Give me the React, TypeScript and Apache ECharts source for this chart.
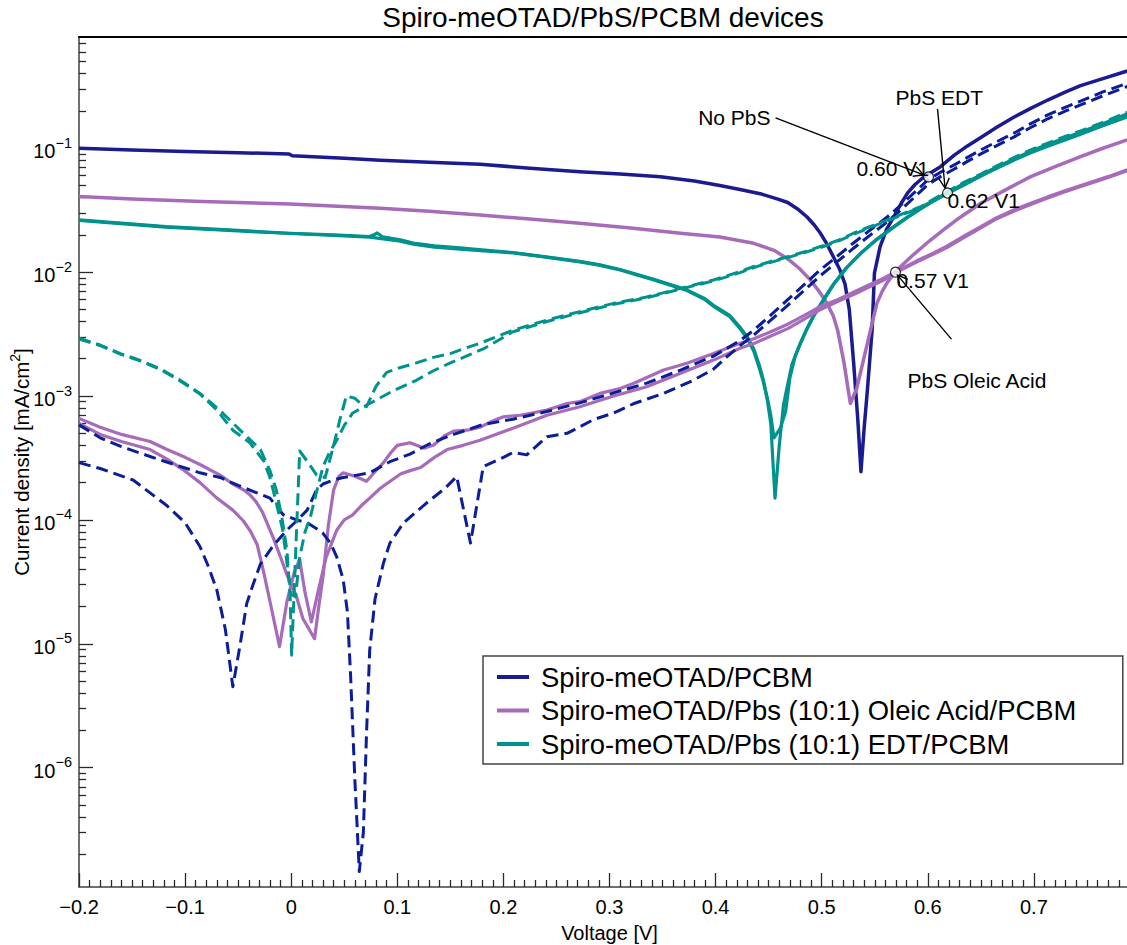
import React, { useEffect, useRef } from 'react';
import * as echarts from 'echarts';

type Pt = [number, number];

const TITLE = 'Spiro-meOTAD/PbS/PCBM devices';
const X_NAME = 'Voltage [V]';
const Y_NAME_MAIN = 'Current density [mA/cm';
const Y_NAME_SUP = '2';
const LEGEND_NAMES = [
  'Spiro-meOTAD/PCBM',
  'Spiro-meOTAD/Pbs (10:1) Oleic Acid/PCBM',
  'Spiro-meOTAD/Pbs (10:1) EDT/PCBM',
];

const X_MIN = -0.2;
const X_MAX = 0.8;
const X_TICKS = [-0.2, -0.1, 0, 0.1, 0.2, 0.3, 0.4, 0.5, 0.6, 0.7];
const X_TICK_LABELS = ['−0.2', '−0.1', '0', '0.1', '0.2', '0.3', '0.4', '0.5', '0.6', '0.7'];
const Y_MIN = 1.089e-7;
const Y_MAX = 0.7907;
const Y_MAJOR = [1e-6, 1e-5, 1e-4, 1e-3, 1e-2, 1e-1];
const Y_MAJOR_EXP = ['−6', '−5', '−4', '−3', '−2', '−1'];
const Y_MINOR_MULT = [2, 3, 4, 5, 6, 7, 8, 9];
const Y_DECADES = [1e-7, 1e-6, 1e-5, 1e-4, 1e-3, 1e-2, 1e-1];

// Spiro-meOTAD/PCBM (No PbS)
const noPbsLight: Pt[] = [
  [-0.2, 0.1], [-0.15, 0.097], [-0.1, 0.094], [-0.05, 0.092], [-0.002, 0.09], [0.001, 0.087],
  [0.05, 0.083], [0.084, 0.08], [0.13, 0.077], [0.178, 0.0743], [0.225, 0.069], [0.272, 0.0647],
  [0.31, 0.062], [0.348, 0.059], [0.38, 0.0545], [0.404, 0.05], [0.423, 0.0465], [0.442, 0.043],
  [0.458, 0.039], [0.468, 0.0365], [0.478, 0.032], [0.486, 0.028], [0.493, 0.024], [0.499, 0.0205],
  [0.505, 0.0168], [0.511, 0.0133], [0.517, 0.0105], [0.522, 0.008], [0.526, 0.005], [0.53, 0.0019],
  [0.534, 6.5e-4], [0.537, 2.45e-4], [0.54, 5.5e-4], [0.543, 1.1e-3], [0.5475, 3.4e-3], [0.5497, 9.8e-3],
  [0.555, 0.016], [0.561, 0.022], [0.568, 0.028], [0.575, 0.036], [0.581, 0.0436], [0.588, 0.051],
  [0.594, 0.0565], [0.6, 0.0615], [0.612, 0.071], [0.625, 0.088], [0.637, 0.104], [0.65, 0.122],
  [0.665, 0.148], [0.681, 0.178], [0.697, 0.21], [0.713, 0.245], [0.73, 0.285], [0.744, 0.32],
  [0.765, 0.365], [0.788, 0.42],
];
const noPbsDarkA: Pt[] = [
  [-0.2, 2.9e-4], [-0.18, 2.6e-4], [-0.149, 2.1e-4], [-0.117, 1.3e-4], [-0.1, 9.5e-5], [-0.086, 6.1e-5],
  [-0.078, 4.2e-5], [-0.07, 2.7e-5], [-0.062, 1.3e-5], [-0.055, 4.5e-6], [-0.048, 1.0e-5], [-0.042, 2.1e-5],
  [-0.036, 3.0e-5], [-0.029, 4.4e-5], [-0.017, 6.2e-5], [-0.004, 8.3e-5], [0.005, 9.8e-5], [0.015, 1.2e-4],
  [0.024, 1.75e-4], [0.03, 1.95e-4], [0.04, 2.1e-4], [0.049, 2.2e-4], [0.062, 2.3e-4], [0.074, 2.4e-4],
  [0.093, 2.95e-4], [0.112, 3.4e-4], [0.13, 4.1e-4], [0.15, 4.8e-4], [0.165, 5.3e-4], [0.181, 5.9e-4],
  [0.209, 6.5e-4], [0.241, 7.5e-4], [0.272, 8.8e-4], [0.304, 1.06e-3], [0.335, 1.27e-3], [0.367, 1.62e-3],
  [0.398, 2.1e-3], [0.423, 2.8e-3], [0.436, 3.4e-3], [0.452, 4.5e-3], [0.468, 6.0e-3], [0.484, 8.0e-3],
  [0.499, 0.0105], [0.515, 0.0135], [0.53, 0.0172], [0.546, 0.022], [0.562, 0.028], [0.575, 0.035],
  [0.587, 0.0436], [0.6, 0.0555], [0.612, 0.064], [0.625, 0.0735], [0.637, 0.084], [0.65, 0.097],
  [0.665, 0.113], [0.681, 0.132], [0.697, 0.158], [0.713, 0.186], [0.73, 0.215], [0.744, 0.24],
  [0.765, 0.285], [0.788, 0.335],
];
const noPbsDarkB: Pt[] = [
  [-0.2, 5.85e-4], [-0.18, 4.6e-4], [-0.16, 3.9e-4], [-0.133, 3.25e-4], [-0.11, 2.8e-4], [-0.086, 2.4e-4],
  [-0.067, 2.2e-4], [-0.05, 1.9e-4], [-0.036, 1.7e-4], [-0.02, 1.5e-4], [-0.0075, 1.1e-4], [0.005, 1.0e-4],
  [0.015, 9.5e-5], [0.024, 8.5e-5], [0.03, 7.8e-5], [0.037, 6.5e-5], [0.043, 5.0e-5], [0.049, 3.3e-5],
  [0.053, 1.8e-5], [0.056, 5.5e-6], [0.06, 8e-7], [0.0642, 1.45e-7], [0.068, 3.0e-7], [0.071, 1.9e-6],
  [0.074, 8.9e-6], [0.079, 2.3e-5], [0.087, 4.5e-5], [0.093, 6.5e-5], [0.106, 9.5e-5], [0.128, 1.38e-4],
  [0.145, 1.8e-4], [0.156, 2.24e-4], [0.169, 6.5e-5], [0.181, 2.7e-4], [0.2, 3.2e-4], [0.209, 3.5e-4],
  [0.222, 3.35e-4], [0.241, 4.7e-4], [0.26, 5.0e-4], [0.285, 6.45e-4], [0.304, 7.3e-4], [0.323, 8.7e-4],
  [0.351, 1.05e-3], [0.379, 1.34e-3], [0.398, 1.65e-3], [0.41, 2.05e-3], [0.423, 2.55e-3], [0.436, 3.1e-3],
  [0.452, 4.1e-3], [0.468, 5.4e-3], [0.484, 7.2e-3], [0.499, 9.4e-3], [0.515, 0.0122], [0.53, 0.0156],
  [0.546, 0.02], [0.562, 0.0255], [0.575, 0.032], [0.587, 0.04], [0.6, 0.051], [0.612, 0.059],
  [0.625, 0.068], [0.637, 0.078], [0.65, 0.09], [0.665, 0.105], [0.681, 0.123], [0.697, 0.147],
  [0.713, 0.173], [0.73, 0.2], [0.744, 0.224], [0.765, 0.265], [0.788, 0.315],
];

// Spiro-meOTAD/PbS Oleic Acid/PCBM
const oleicLight: Pt[] = [
  [-0.2, 0.0407], [-0.15, 0.039], [-0.084, 0.0371], [-0.001, 0.0355], [0.084, 0.0328], [0.13, 0.031],
  [0.178, 0.0289], [0.225, 0.0268], [0.272, 0.0248], [0.32, 0.0227], [0.367, 0.0206], [0.404, 0.0192],
  [0.436, 0.0171], [0.455, 0.015], [0.468, 0.0128], [0.479, 0.0107], [0.489, 0.0087], [0.497, 0.0071],
  [0.505, 0.0056], [0.511, 0.0044], [0.515, 0.0034], [0.521, 0.00186], [0.527, 8.7e-4], [0.533, 1.15e-3],
  [0.539, 1.9e-3], [0.546, 3.4e-3], [0.552, 5.6e-3], [0.557, 7.0e-3], [0.562, 8.3e-3], [0.571, 0.0104],
  [0.585, 0.0135], [0.602, 0.018], [0.615, 0.022], [0.63, 0.0275], [0.65, 0.036], [0.675, 0.047],
  [0.697, 0.059], [0.72, 0.071], [0.744, 0.0855], [0.765, 0.1], [0.788, 0.117],
];
const oleicDarkA: Pt[] = [
  [-0.2, 6.6e-4], [-0.18, 5.6e-4], [-0.16, 4.9e-4], [-0.133, 4.3e-4], [-0.117, 3.7e-4], [-0.1, 3.2e-4],
  [-0.086, 2.8e-4], [-0.067, 2.3e-4], [-0.055, 1.95e-4], [-0.045, 1.75e-4], [-0.039, 1.6e-4], [-0.033, 1.4e-4],
  [-0.027, 1.15e-4], [-0.017, 7.2e-5], [-0.01, 5.0e-5], [-0.004, 3.6e-5], [0.005, 2.4e-5], [0.011, 1.6e-5],
  [0.016, 1.35e-5], [0.022, 1.1e-5], [0.026, 2.0e-5], [0.03, 3.5e-5], [0.035, 9e-5], [0.04, 1.75e-4],
  [0.045, 2.25e-4], [0.049, 2.4e-4], [0.06, 2.25e-4], [0.071, 2.05e-4], [0.079, 2.45e-4], [0.087, 2.9e-4],
  [0.094, 3.5e-4], [0.1, 4.0e-4], [0.112, 4.2e-4], [0.125, 3.8e-4], [0.134, 4.0e-4], [0.145, 4.8e-4],
  [0.153, 5.2e-4], [0.166, 5.3e-4], [0.178, 5.6e-4], [0.19, 6.3e-4], [0.2, 6.8e-4], [0.216, 7.0e-4],
  [0.241, 7.7e-4], [0.26, 8.7e-4], [0.272, 9.0e-4], [0.291, 1.05e-3], [0.31, 1.15e-3], [0.323, 1.27e-3],
  [0.351, 1.62e-3], [0.373, 1.84e-3], [0.398, 2.2e-3], [0.423, 2.67e-3], [0.436, 2.9e-3], [0.452, 3.3e-3],
  [0.468, 3.8e-3], [0.484, 4.5e-3], [0.499, 5.3e-3], [0.515, 6.0e-3], [0.53, 6.9e-3], [0.545, 7.9e-3],
  [0.558, 8.9e-3], [0.57, 0.0101], [0.58, 0.0112], [0.59, 0.0124], [0.605, 0.0142], [0.618, 0.0162],
  [0.634, 0.0195], [0.65, 0.0233], [0.665, 0.0275], [0.681, 0.0318], [0.697, 0.036], [0.713, 0.0405],
  [0.73, 0.0455], [0.75, 0.052], [0.77, 0.059], [0.788, 0.067],
];
const oleicDarkB: Pt[] = [
  [-0.2, 6.0e-4], [-0.18, 4.9e-4], [-0.16, 4.3e-4], [-0.133, 3.7e-4], [-0.117, 3.1e-4], [-0.102, 2.55e-4],
  [-0.086, 2.0e-4], [-0.07, 1.5e-4], [-0.055, 1.2e-4], [-0.045, 9.8e-5], [-0.038, 8.0e-5], [-0.032, 6.3e-5],
  [-0.026, 3.8e-5], [-0.019, 2.0e-5], [-0.011, 9.5e-6], [-0.004, 2.2e-5], [0.003, 3.8e-5], [0.008, 4.8e-5],
  [0.013, 2.6e-5], [0.019, 1.5e-5], [0.026, 2.8e-5], [0.033, 5.0e-5], [0.043, 8.3e-5], [0.05, 1.0e-4],
  [0.058, 1.1e-4], [0.066, 1.3e-4], [0.074, 1.5e-4], [0.084, 1.8e-4], [0.103, 2.35e-4], [0.112, 2.5e-4],
  [0.122, 2.65e-4], [0.135, 3.2e-4], [0.147, 3.7e-4], [0.162, 4.0e-4], [0.178, 4.4e-4], [0.209, 5.5e-4],
  [0.241, 7.0e-4], [0.272, 8.2e-4], [0.304, 1.0e-3], [0.335, 1.19e-3], [0.367, 1.53e-3], [0.398, 1.95e-3],
  [0.423, 2.43e-3], [0.436, 2.65e-3], [0.452, 3.05e-3], [0.468, 3.5e-3], [0.484, 4.2e-3], [0.499, 5.0e-3],
  [0.515, 5.8e-3], [0.53, 6.6e-3], [0.545, 7.6e-3], [0.558, 8.6e-3], [0.57, 9.9e-3], [0.58, 0.011],
  [0.59, 0.0121], [0.605, 0.0139], [0.618, 0.0158], [0.634, 0.019], [0.65, 0.0228], [0.665, 0.027],
  [0.681, 0.031], [0.697, 0.0352], [0.713, 0.0397], [0.73, 0.0447], [0.75, 0.051], [0.77, 0.058],
  [0.788, 0.066],
];

// Spiro-meOTAD/PbS EDT/PCBM
const edtLightA: Pt[] = [
  [-0.2, 0.0264], [-0.118, 0.0233], [-0.05, 0.0217], [-0.001, 0.0206], [0.04, 0.02], [0.074, 0.0194],
  [0.078, 0.02], [0.081, 0.0207], [0.086, 0.0193], [0.103, 0.0182], [0.115, 0.0172], [0.135, 0.0163],
  [0.159, 0.0157], [0.185, 0.015], [0.209, 0.0144], [0.24, 0.0133], [0.272, 0.0122], [0.29, 0.0115],
  [0.31, 0.0105], [0.341, 0.0088], [0.373, 0.0072], [0.39, 0.0061], [0.398, 0.0054], [0.413, 0.0045],
  [0.423, 0.0036], [0.43, 0.003], [0.436, 0.0024], [0.441, 0.0018], [0.445, 0.00135], [0.449, 9e-4],
  [0.452, 6.0e-4], [0.456, 1.5e-4], [0.46, 4.0e-4], [0.464, 8.5e-4], [0.468, 1.25e-3], [0.472, 1.8e-3],
  [0.48, 2.7e-3], [0.486, 3.5e-3], [0.492, 4.4e-3], [0.5, 5.7e-3], [0.511, 8.0e-3], [0.523, 0.0108],
  [0.537, 0.0143], [0.552, 0.0185], [0.568, 0.0233], [0.581, 0.028], [0.594, 0.033], [0.606, 0.038],
  [0.618, 0.0432], [0.634, 0.051], [0.65, 0.06], [0.665, 0.07], [0.681, 0.081], [0.697, 0.093],
  [0.713, 0.105], [0.73, 0.119], [0.744, 0.132], [0.765, 0.155], [0.788, 0.183],
];
const edtLightB: Pt[] = [
  [-0.2, 0.0262], [-0.118, 0.0231], [-0.05, 0.0215], [-0.001, 0.0205], [0.04, 0.0198], [0.074, 0.0192],
  [0.103, 0.0178], [0.115, 0.0168], [0.135, 0.0159], [0.159, 0.0153], [0.185, 0.0148], [0.209, 0.0143],
  [0.24, 0.0132], [0.272, 0.0121], [0.29, 0.0114], [0.31, 0.0104], [0.341, 0.0087], [0.373, 0.0071],
  [0.39, 0.006], [0.398, 0.0053], [0.413, 0.0044], [0.423, 0.0035], [0.43, 0.0029], [0.436, 0.0023],
  [0.441, 0.0017], [0.445, 0.0013], [0.449, 9.5e-4], [0.452, 7.0e-4], [0.455, 4.6e-4], [0.461, 5.5e-4],
  [0.466, 7.5e-4], [0.47, 1.4e-3], [0.475, 2.1e-3], [0.48, 2.65e-3], [0.486, 3.45e-3], [0.492, 4.35e-3],
  [0.5, 5.6e-3], [0.511, 7.9e-3], [0.523, 0.0107], [0.537, 0.0142], [0.552, 0.0183], [0.568, 0.0231],
  [0.581, 0.0277], [0.594, 0.0327], [0.606, 0.0377], [0.618, 0.0428], [0.634, 0.0505], [0.65, 0.0595],
  [0.665, 0.069], [0.681, 0.08], [0.697, 0.092], [0.713, 0.104], [0.73, 0.117], [0.744, 0.13],
  [0.765, 0.152], [0.788, 0.179],
];
const edtDarkA: Pt[] = [
  [-0.2, 2.93e-3], [-0.18, 2.58e-3], [-0.161, 2.2e-3], [-0.143, 1.95e-3], [-0.124, 1.67e-3], [-0.105, 1.35e-3],
  [-0.086, 1.05e-3], [-0.074, 8.6e-4], [-0.064, 7.2e-4], [-0.045, 5.0e-4], [-0.029, 3.7e-4], [-0.02, 2.5e-4],
  [-0.014, 1.74e-4], [-0.009, 1.07e-4], [-0.004, 5.7e-5], [-0.001, 2.4e-5], [0.0004, 8.1e-6], [0.008, 3.6e-4],
  [0.016, 2.9e-4], [0.024, 2.3e-4], [0.032, 2.2e-4], [0.04, 4.0e-4], [0.046, 6.5e-4], [0.052, 1.0e-3],
  [0.06, 9.6e-4], [0.066, 8.6e-4], [0.071, 8.2e-4], [0.08, 1.2e-3], [0.09, 1.55e-3], [0.103, 1.7e-3],
  [0.118, 1.85e-3], [0.134, 2.05e-3], [0.15, 2.2e-3], [0.165, 2.45e-3], [0.178, 2.67e-3], [0.209, 3.4e-3],
  [0.241, 4.1e-3], [0.272, 4.8e-3], [0.304, 5.6e-3], [0.335, 6.3e-3], [0.367, 7.4e-3], [0.398, 8.65e-3],
  [0.423, 0.0101], [0.436, 0.0111], [0.452, 0.0122], [0.468, 0.0133], [0.484, 0.0146], [0.499, 0.0161],
  [0.515, 0.018], [0.53, 0.0206], [0.546, 0.0234], [0.562, 0.0264], [0.578, 0.03], [0.594, 0.034],
  [0.606, 0.039], [0.618, 0.0445], [0.634, 0.053], [0.65, 0.062], [0.665, 0.072], [0.681, 0.084],
  [0.697, 0.097], [0.713, 0.11], [0.73, 0.125], [0.744, 0.138], [0.765, 0.162], [0.788, 0.195],
];
const edtDarkB: Pt[] = [
  [-0.2, 2.88e-3], [-0.18, 2.55e-3], [-0.161, 2.18e-3], [-0.143, 1.93e-3], [-0.124, 1.65e-3], [-0.105, 1.33e-3],
  [-0.086, 1.04e-3], [-0.07, 7.7e-4], [-0.055, 5.3e-4], [-0.039, 4.2e-4], [-0.026, 3.0e-4], [-0.02, 2.2e-4],
  [-0.014, 1.37e-4], [-0.008, 8.3e-5], [-0.004, 4.5e-5], [0.0, 2.5e-5], [0.004, 2.4e-5], [0.008, 5.0e-5],
  [0.013, 8.0e-5], [0.018, 1.05e-4], [0.024, 1.7e-4], [0.03, 2.7e-4], [0.036, 3.5e-4], [0.043, 4.4e-4],
  [0.05, 5.8e-4], [0.058, 7.3e-4], [0.066, 8.0e-4], [0.074, 8.7e-4], [0.087, 1.0e-3], [0.096, 1.1e-3],
  [0.118, 1.34e-3], [0.134, 1.6e-3], [0.15, 1.85e-3], [0.165, 2.1e-3], [0.181, 2.4e-3], [0.209, 3.3e-3],
  [0.241, 4.0e-3], [0.272, 4.7e-3], [0.304, 5.5e-3], [0.335, 6.2e-3], [0.367, 7.3e-3], [0.398, 8.5e-3],
  [0.423, 9.9e-3], [0.436, 0.0109], [0.452, 0.012], [0.468, 0.0131], [0.484, 0.0144], [0.499, 0.0158],
  [0.515, 0.0177], [0.53, 0.0202], [0.546, 0.023], [0.562, 0.026], [0.578, 0.0295], [0.594, 0.0335],
  [0.606, 0.0383], [0.618, 0.0437], [0.634, 0.052], [0.65, 0.061], [0.665, 0.0705], [0.681, 0.082],
  [0.697, 0.095], [0.713, 0.108], [0.73, 0.122], [0.744, 0.135], [0.765, 0.158], [0.788, 0.19],
];

// Annotations (open-circuit voltage markers)
const ANNOT_POINTS: Pt[] = [[0.6007, 0.0587], [0.6186, 0.0435], [0.5695, 0.01]];
const ANNOT_VALUE_LABELS = ['0.60 V1', '0.62 V1', '0.57 V1'];
const ANNOT_DEVICE_LABELS = ['No PbS', 'PbS EDT', 'PbS Oleic Acid'];

const FONT = '"Liberation Sans", Arial, Helvetica, sans-serif';
const NAVY = '#1b1b8f';
const NAVY_DASH = '#0c1e97';
const PURPLE = '#a66bb9';
const TEAL = '#00928d';

// pixel offsets of the annotation pieces relative to each marker
const ANNOT_LAYOUT = [
  { dev: [-158, -59], devAlign: 'right', tail: [-153, -59], tip: [-5, -2], val: [-72, -8] },
  { dev: [-52, -96], devAlign: 'left', tail: [-10, -84], tip: [-2.5, -5], val: [0, 7] },
  { dev: [12, 108], devAlign: 'left', tail: [56, 67], tip: [2, 3], val: [1, 8] },
];

const toLog = (d: Pt[]) => d.map(([v, j]) => [v, Math.log10(j)]);

export default function App() {
  const ref = useRef<HTMLDivElement>(null);
  useEffect(() => {
    const el = ref.current;
    if (!el) return;
    const chart = echarts.init(el, null, { renderer: 'svg' });
    const yMinL = Math.log10(Y_MIN);
    const yMaxL = Math.log10(Y_MAX);
    const majorVals = Y_MAJOR.map((v) => Math.log10(v));
    const minorVals: number[] = [];
    Y_DECADES.forEach((d) => {
      Y_MINOR_MULT.forEach((k) => {
        const l = Math.log10(k * d);
        if (l > yMinL && l < yMaxL) minorVals.push(l);
      });
    });

    const tickStyle = { color: '#2a2a2a', width: 1.3 };
    const axisLineStyle = { color: '#707070', width: 2 };

    const lineSeries = (name: string, data: Pt[], color: string, dashed: boolean, width: number) => ({
      type: 'line',
      name,
      data: toLog(data),
      symbol: 'none',
      showSymbol: false,
      silent: true,
      smooth: false,
      clip: true,
      itemStyle: { color },
      lineStyle: { color, width, type: dashed ? [12, 6] : 'solid', cap: 'butt', join: 'round' },
      emphasis: { disabled: true },
    });

    const option: any = {
      animation: false,
      backgroundColor: '#ffffff',
      grid: { left: 79, top: 37, right: -13, bottom: 58, containLabel: false, outerBoundsMode: 'none' },
      legend: {
        data: LEGEND_NAMES,
        orient: 'vertical',
        left: 483,
        top: 656,
        padding: [7, 45, 6, 14],
        itemGap: 5.5,
        itemWidth: 32,
        itemHeight: 4,
        icon: 'rect',
        borderColor: '#444',
        borderWidth: 1.5,
        borderRadius: 0,
        backgroundColor: '#ffffff',
        selectedMode: false,
        textStyle: { fontSize: 27.4, lineHeight: 28, fontFamily: FONT, color: '#000', padding: [0, 0, 0, 7] },
      },
      xAxis: [
        {
          type: 'value',
          min: X_MIN,
          max: X_MAX,
          interval: 0.1,
          position: 'bottom',
          axisLine: { show: true, onZero: false, lineStyle: axisLineStyle },
          axisTick: { show: true, inside: true, length: 14, lineStyle: tickStyle },
          minorTick: { show: true, splitNumber: 10, length: 7, lineStyle: tickStyle },
          splitLine: { show: false },
          minorSplitLine: { show: false },
          axisLabel: {
            fontSize: 20,
            fontFamily: FONT,
            color: '#000',
            margin: 10,
            formatter: (v: number) => {
              const i = X_TICKS.findIndex((t) => Math.abs(t - v) < 1e-6);
              return i >= 0 ? X_TICK_LABELS[i] : '';
            },
          },
          name: X_NAME,
          nameLocation: 'middle',
          nameGap: 36,
          nameMoveOverlap: false,
          nameTextStyle: { fontSize: 20, fontFamily: FONT, color: '#000' },
        },
        {
          type: 'value',
          min: X_MIN,
          max: X_MAX,
          position: 'top',
          axisLine: { show: true, onZero: false, lineStyle: { color: '#000', width: 2 } },
          axisTick: { show: false },
          axisLabel: { show: false },
          splitLine: { show: false },
        },
      ],
      yAxis: [
        {
          type: 'value',
          min: yMinL,
          max: yMaxL,
          position: 'left',
          axisLine: { show: true, onZero: false, lineStyle: axisLineStyle },
          axisTick: { show: true, inside: true, length: 14, lineStyle: tickStyle, customValues: majorVals },
          splitLine: { show: false },
          axisLabel: {
            customValues: majorVals,
            margin: 7,
            fontSize: 20,
            fontFamily: FONT,
            color: '#000',
            formatter: (v: number) => {
              const i = majorVals.findIndex((t) => Math.abs(t - v) < 1e-6);
              return i >= 0 ? `{b|10}{s|${Y_MAJOR_EXP[i]}}` : '';
            },
            rich: {
              b: { fontSize: 20, lineHeight: 26, verticalAlign: 'bottom', fontFamily: FONT, color: '#000' },
              s: { fontSize: 14.5, lineHeight: 14, verticalAlign: 'top', fontFamily: FONT, color: '#000' },
            },
          },
          name: `{a|${Y_NAME_MAIN}}{s|${Y_NAME_SUP}}{a|]}`,
          nameLocation: 'middle',
          nameRotate: 90,
          nameGap: 47,
          nameMoveOverlap: false,
          nameTextStyle: {
            fontSize: 20.5,
            fontFamily: FONT,
            color: '#000',
            rich: {
              a: { fontSize: 20.5, lineHeight: 24, verticalAlign: 'bottom', fontFamily: FONT, color: '#000' },
              s: { fontSize: 14, lineHeight: 12, verticalAlign: 'top', fontFamily: FONT, color: '#000' },
            },
          },
        },
        {
          type: 'value',
          min: yMinL,
          max: yMaxL,
          position: 'left',
          offset: 0,
          axisLine: { show: false, onZero: false },
          axisTick: { show: true, inside: true, length: 7, lineStyle: tickStyle, customValues: minorVals },
          axisLabel: { show: false },
          splitLine: { show: false },
        },
      ],
      series: [
        lineSeries(LEGEND_NAMES[0], noPbsLight, NAVY, false, 3.5),
        lineSeries(LEGEND_NAMES[1], oleicLight, PURPLE, false, 3.5),
        lineSeries(LEGEND_NAMES[2], edtLightA, TEAL, false, 3.2),
        lineSeries(LEGEND_NAMES[2], edtLightB, TEAL, false, 3.2),
        lineSeries(LEGEND_NAMES[1], oleicDarkA, PURPLE, false, 3.2),
        lineSeries(LEGEND_NAMES[1], oleicDarkB, PURPLE, false, 3.2),
        lineSeries(LEGEND_NAMES[0], noPbsDarkA, NAVY_DASH, true, 3),
        lineSeries(LEGEND_NAMES[0], noPbsDarkB, NAVY_DASH, true, 3),
        lineSeries(LEGEND_NAMES[2], edtDarkA, TEAL, true, 3),
        lineSeries(LEGEND_NAMES[2], edtDarkB, TEAL, true, 3),
        {
          type: 'scatter',
          name: 'Voc',
          data: toLog(ANNOT_POINTS),
          symbol: 'circle',
          symbolSize: 10,
          silent: true,
          z: 10,
          itemStyle: { color: '#ffffff', borderColor: '#000', borderWidth: 1.3 },
        },
      ],
    };
    chart.setOption(option);

    const graphics: any[] = [
      {
        type: 'text',
        x: 603,
        y: 17,
        z: 100,
        style: { text: TITLE, fill: '#000', font: `28px ${FONT}`, align: 'center', verticalAlign: 'middle', textAlign: 'center', textVerticalAlign: 'middle' },
      },
    ];
    ANNOT_POINTS.forEach((p, i) => {
      const c = chart.convertToPixel({ xAxisIndex: 0, yAxisIndex: 0 } as any, [p[0], Math.log10(p[1])]) as number[];
      const L = ANNOT_LAYOUT[i];
      const tail = [c[0] + L.tail[0], c[1] + L.tail[1]];
      const tip = [c[0] + L.tip[0], c[1] + L.tip[1]];
      graphics.push({
        type: 'line',
        z: 100,
        shape: { x1: tail[0], y1: tail[1], x2: tip[0], y2: tip[1] },
        style: { stroke: '#000', lineWidth: 1.4 },
      });
      const dx = tip[0] - tail[0];
      const dy = tip[1] - tail[1];
      const len = Math.hypot(dx, dy);
      const ux = dx / len;
      const uy = dy / len;
      const a = (28 * Math.PI) / 180;
      const h = 11;
      const w1 = [tip[0] - h * (ux * Math.cos(a) - uy * Math.sin(a)), tip[1] - h * (uy * Math.cos(a) + ux * Math.sin(a))];
      const w2 = [tip[0] - h * (ux * Math.cos(a) + uy * Math.sin(a)), tip[1] - h * (uy * Math.cos(a) - ux * Math.sin(a))];
      graphics.push({
        type: 'polyline',
        z: 100,
        shape: { points: [w1, tip, w2] },
        style: { stroke: '#000', lineWidth: 1.4, fill: 'none' },
      });
      graphics.push({
        type: 'text',
        z: 100,
        x: c[0] + L.dev[0],
        y: c[1] + L.dev[1],
        style: {
          text: ANNOT_DEVICE_LABELS[i], fill: '#000', font: `21px ${FONT}`,
          align: L.devAlign, verticalAlign: 'middle', textAlign: L.devAlign, textVerticalAlign: 'middle',
        },
      });
      graphics.push({
        type: 'text',
        z: 100,
        x: c[0] + L.val[0],
        y: c[1] + L.val[1],
        style: {
          text: ANNOT_VALUE_LABELS[i], fill: '#000', font: `21px ${FONT}`,
          align: 'left', verticalAlign: 'middle', textAlign: 'left', textVerticalAlign: 'middle',
        },
      });
    });
    chart.setOption({ graphic: graphics });

    return () => chart.dispose();
  }, []);

  return (
    <div
      ref={ref}
      style={{ position: 'fixed', left: 0, top: 0, width: 1127, height: 945, background: '#fff' }}
    />
  );
}
